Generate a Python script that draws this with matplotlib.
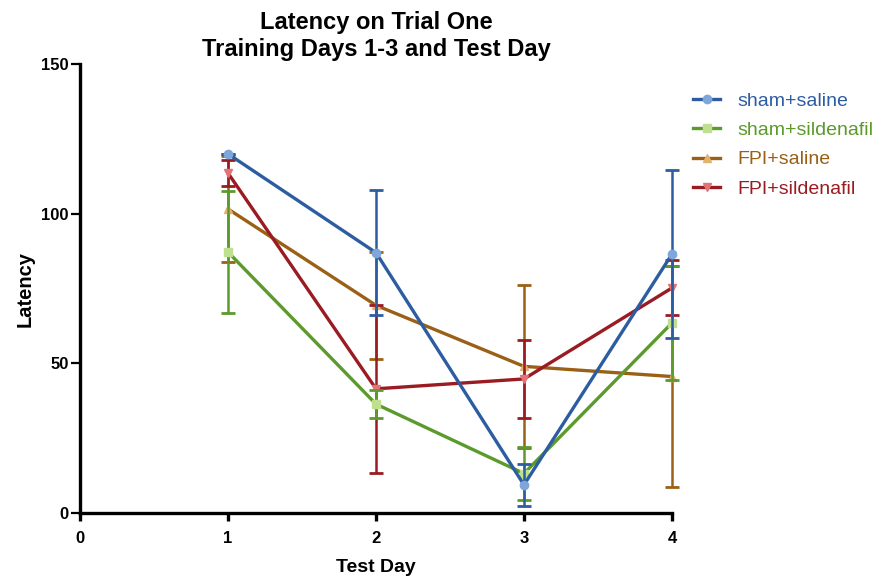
import matplotlib
matplotlib.use('Agg')
import matplotlib.pyplot as plt

plt.rcParams['font.family'] = ['Liberation Sans', 'DejaVu Sans']

days = [1, 2, 3, 4]

groups = ['sham+saline', 'sham+sildenafil', 'FPI+saline', 'FPI+sildenafil']

sham_saline = [120, 87, 9.4, 86.5]
sham_saline_err = [0, 21, 7, 28]

sham_sild = [87.2, 36.4, 13.2, 63.5]
sham_sild_err = [20.5, 4.7, 8.7, 19]

fpi_saline = [101.6, 69.4, 49, 45.6]
fpi_saline_err = [17.8, 17.8, 27.3, 36.8]

fpi_sild = [113.6, 41.5, 44.8, 75.2]
fpi_sild_err = [4.2, 28, 13, 9.2]

line_colors = ['#2D5DA1', '#5B9A2B', '#9A6116', '#9A1B22']
marker_colors = ['#7FA6DA', '#BFE08E', '#E2B36E', '#E27478']
markers = ['o', 's', '^', 'v']
zorders = [6, 5, 3, 4]

fig = plt.figure(figsize=(8.8, 5.77), dpi=100)
ax = fig.add_axes([0.0909, 0.1109, 0.6727, 0.778])

series = [(sham_saline, sham_saline_err), (sham_sild, sham_sild_err),
          (fpi_saline, fpi_saline_err), (fpi_sild, fpi_sild_err)]

for i, (vals, errs) in enumerate(series):
    ax.errorbar(days, vals, yerr=errs, color=line_colors[i], lw=2.4,
                elinewidth=1.8, capsize=5, capthick=2,
                marker=markers[i], markersize=6, mfc=marker_colors[i],
                mec=marker_colors[i], label=groups[i], clip_on=False,
                zorder=zorders[i])

ax.set_xlim(0, 4)
ax.set_ylim(0, 150)
ax.set_xticks([0, 1, 2, 3, 4])
ax.set_yticks([0, 50, 100, 150])
for s in ['top', 'right']:
    ax.spines[s].set_visible(False)
for s in ['left', 'bottom']:
    ax.spines[s].set_linewidth(2.4)
ax.tick_params(axis='x', width=2.4, length=6, labelsize=12, pad=7)
ax.tick_params(axis='y', width=1.6, length=6.5, labelsize=12, pad=1.5)
for lab in ax.get_xticklabels() + ax.get_yticklabels():
    lab.set_fontweight('bold')

ax.set_xlabel('Test Day', fontsize=14, fontweight='bold', labelpad=9)
ax.set_ylabel('Latency', fontsize=14.5, fontweight='bold', labelpad=4.5)
ax.set_title('Latency on Trial One\nTraining Days 1-3 and Test Day',
             fontsize=17, fontweight='bold', pad=6, linespacing=1.2)

handles, labels = ax.get_legend_handles_labels()
handles = [h[0] for h in handles]
fig.legend(handles, labels, loc='upper left', bbox_to_anchor=(0.7875, 0.84),
           frameon=False, fontsize=14, labelcolor='linecolor',
           borderpad=0, borderaxespad=0,
           handlelength=1.4, handletextpad=0.9, labelspacing=0.6)

fig.savefig('out.png', dpi=100)
